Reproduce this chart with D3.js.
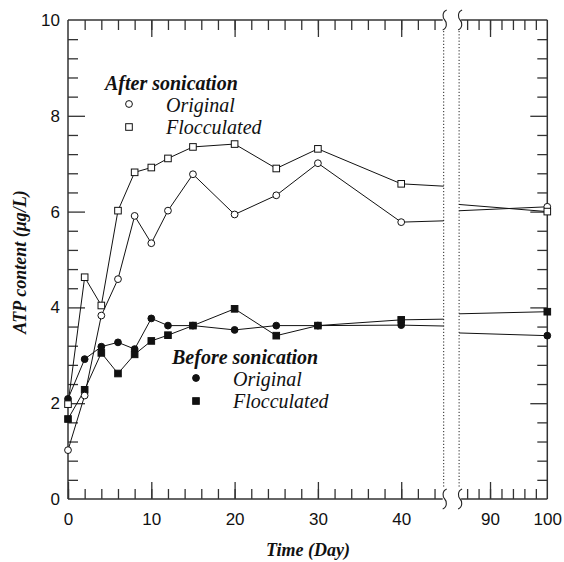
<!DOCTYPE html>
<html>
<head>
<meta charset="utf-8">
<script src="https://cdn.jsdelivr.net/npm/d3@7"></script>
<style>
  body { margin: 0; background: #fff; }
  svg { display: block; }
  .tick text { font-family: "Liberation Sans", Arial, sans-serif; font-size: 17px; fill: #111; }
</style>
</head>
<body>
<svg width="564" height="562"></svg>
<script>
// data
var days           = [0, 2, 4, 6, 8, 10, 12, 15, 20, 25, 30, 40, 100];
var afterOriginal  = [1.02, 2.16, 3.83, 4.59, 5.91, 5.34, 6.02, 6.78, 5.94, 6.34, 7.01, 5.78, 6.10];
var afterFloc      = [1.98, 4.63, 4.04, 6.02, 6.82, 6.92, 7.11, 7.35, 7.41, 6.90, 7.31, 6.58, 6.00];
var beforeOriginal = [2.09, 2.92, 3.18, 3.27, 3.13, 3.77, 3.62, 3.62, 3.53, 3.62, 3.62, 3.63, 3.41];
var beforeFloc     = [1.67, 2.28, 3.05, 2.62, 3.02, 3.30, 3.42, 3.62, 3.97, 3.41, 3.62, 3.74, 3.91];

var xMajorLeft = [0, 10, 20, 30, 40],
    xMajorRight = [90, 100],
    yMajor = [0, 2, 4, 6, 8, 10];

var breakL = 45.1, breakR = 84.6;
var serif = "'Liberation Serif', 'Times New Roman', Times, 'DejaVu Serif', serif";

var svg = d3.select("svg"),
    top_ = 20, bottom = 499, left = 68, right = 547.3;

var xL = d3.scaleLinear().domain([0, breakL]).range([left, 443.7]),
    xR = d3.scaleLinear().domain([breakR, 100]).range([459.1, right]),
    y = d3.scaleLinear().domain([0, 10]).range([bottom, top_]);

var axisColor = "#333";

function styleAxis(g) {
  g.select(".domain").remove();
  g.selectAll(".tick line").attr("stroke", axisColor).attr("stroke-width", 1.3);
}

// bottom axis, left part
svg.append("g").attr("transform", "translate(0," + bottom + ")")
  .call(d3.axisBottom(xL).tickValues(d3.range(0, 45, 2)).tickSize(-10).tickFormat(""))
  .call(styleAxis);
svg.append("g").attr("transform", "translate(0," + bottom + ")")
  .call(d3.axisBottom(xL).tickValues(xMajorLeft).tickSize(-17).tickPadding(14).tickFormat(d3.format("d")))
  .call(styleAxis);
// bottom axis, right part
svg.append("g").attr("transform", "translate(0," + bottom + ")")
  .call(d3.axisBottom(xR).tickValues(d3.range(86, 100, 2)).tickSize(-10).tickFormat(""))
  .call(styleAxis);
svg.append("g").attr("transform", "translate(0," + bottom + ")")
  .call(d3.axisBottom(xR).tickValues(xMajorRight).tickSize(-17).tickPadding(14).tickFormat(d3.format("d")))
  .call(styleAxis);
svg.selectAll(".tick").filter(function(d) { return d === 100; }).select("line").remove();

// top axis
svg.append("g").attr("transform", "translate(0," + top_ + ")")
  .call(d3.axisTop(xL).tickValues(d3.range(2, 45, 2)).tickSize(-10).tickFormat(""))
  .call(styleAxis);
svg.append("g").attr("transform", "translate(0," + top_ + ")")
  .call(d3.axisTop(xL).tickValues([10, 20, 30, 40]).tickSize(-17).tickFormat(""))
  .call(styleAxis);
svg.append("g").attr("transform", "translate(0," + top_ + ")")
  .call(d3.axisTop(xR).tickValues(d3.range(86, 100, 2)).tickSize(-10).tickFormat(""))
  .call(styleAxis);
svg.append("g").attr("transform", "translate(0," + top_ + ")")
  .call(d3.axisTop(xR).tickValues([90]).tickSize(-17).tickFormat(""))
  .call(styleAxis);

// left axis
var yMinor = d3.range(0.4, 10, 0.4).filter(function(v) { return Math.abs(v / 2 - Math.round(v / 2)) > 0.01; });
svg.append("g").attr("transform", "translate(" + left + ",0)")
  .call(d3.axisLeft(y).tickValues(yMinor).tickSize(-10).tickFormat(""))
  .call(styleAxis);
svg.append("g").attr("transform", "translate(" + left + ",0)")
  .call(d3.axisLeft(y).tickValues(yMajor.slice(1, 5)).tickSize(-17).tickFormat(""))
  .call(styleAxis);
svg.append("g").attr("transform", "translate(" + left + ",0)")
  .call(d3.axisLeft(y).tickValues(yMajor).tickSize(0).tickPadding(8).tickFormat(d3.format("d")))
  .call(styleAxis);
// right axis
svg.append("g").attr("transform", "translate(" + right + ",0)")
  .call(d3.axisRight(y).tickValues(yMinor).tickSize(-10).tickFormat(""))
  .call(styleAxis);
svg.append("g").attr("transform", "translate(" + right + ",0)")
  .call(d3.axisRight(y).tickValues(yMajor.slice(1, 5)).tickSize(-17).tickFormat(""))
  .call(styleAxis);

// frame lines with break
var frame = svg.append("g").attr("stroke", axisColor).attr("stroke-width", 1.5).attr("fill", "none");
frame.append("line").attr("x1", left).attr("x2", left).attr("y1", top_).attr("y2", bottom);
frame.append("line").attr("x1", right).attr("x2", right).attr("y1", top_).attr("y2", bottom);
[top_, bottom].forEach(function(yy) {
  frame.append("line").attr("x1", left).attr("x2", xL(breakL) - 1).attr("y1", yy).attr("y2", yy);
  frame.append("line").attr("x1", xR(breakR) + 2).attr("x2", right).attr("y1", yy).attr("y2", yy);
});
function squiggle(cx, cy) {
  return "M" + (cx + 2) + "," + (cy - 10) +
    " C" + (cx - 3) + "," + (cy - 8) + " " + (cx - 2) + "," + (cy - 2) + " " + cx + "," + cy +
    " C" + (cx + 2) + "," + (cy + 2) + " " + (cx + 3) + "," + (cy + 8) + " " + (cx - 2) + "," + (cy + 10);
}
[xL(breakL) + 1, xR(breakR) + 1].forEach(function(xx) {
  [top_, bottom].forEach(function(yy) {
    svg.append("path").attr("d", squiggle(xx, yy))
      .attr("fill", "none").attr("stroke", "#222").attr("stroke-width", 1.1);
  });
  svg.append("line").attr("x1", xx - 1).attr("x2", xx - 1).attr("y1", top_ + 11).attr("y2", bottom - 11)
    .attr("stroke", "#222").attr("stroke-width", 1).attr("stroke-dasharray", "1.2,2");
});

// series lines split at the axis break
function interp(d0, v0, d1, v1, d) { return v0 + (v1 - v0) * (d - d0) / (d1 - d0); }

function drawSeries(vals) {
  var leftPts = [], rightPts = [];
  for (var i = 0; i < days.length; i++) {
    if (days[i] <= breakL) leftPts.push([xL(days[i]), y(vals[i])]);
    else rightPts.push([xR(days[i]), y(vals[i])]);
    if (i < days.length - 1 && days[i] <= breakL && days[i + 1] > breakR) {
      leftPts.push([xL(breakL), y(interp(days[i], vals[i], days[i + 1], vals[i + 1], breakL))]);
      rightPts.push([xR(breakR), y(interp(days[i], vals[i], days[i + 1], vals[i + 1], breakR))]);
    }
  }
  var line = d3.line();
  [leftPts, rightPts].forEach(function(p) {
    svg.append("path").attr("d", line(p)).attr("fill", "none").attr("stroke", "#111").attr("stroke-width", 1);
  });
}
function px(d) { return d <= breakL ? xL(d) : xR(d); }

function drawMarkers(vals, shape, filled) {
  var g = svg.append("g");
  var pts = days.map(function(d, i) { return { x: px(d), y: y(vals[i]) }; });
  if (shape === "circle") {
    g.selectAll("circle").data(pts).enter().append("circle")
      .attr("cx", function(d) { return d.x; }).attr("cy", function(d) { return d.y; })
      .attr("r", 3.4)
      .attr("fill", filled ? "#111" : "#fff").attr("stroke", "#111").attr("stroke-width", 1);
  } else {
    g.selectAll("rect").data(pts).enter().append("rect")
      .attr("x", function(d) { return d.x - 3.3; }).attr("y", function(d) { return d.y - 3.3; })
      .attr("width", 6.6).attr("height", 6.6)
      .attr("fill", filled ? "#111" : "#fff").attr("stroke", "#111").attr("stroke-width", 1);
  }
}

drawSeries(beforeOriginal);
drawSeries(beforeFloc);
drawSeries(afterOriginal);
drawSeries(afterFloc);
drawMarkers(beforeOriginal, "circle", true);
drawMarkers(beforeFloc, "square", true);
drawMarkers(afterOriginal, "circle", false);
drawMarkers(afterFloc, "square", false);

// legends
function legend(x0, y0, title, filled) {
  svg.append("text").attr("font-family", serif).attr("x", x0).attr("y", y0)
    .attr("font-size", 20).attr("font-weight", "bold").attr("font-style", "italic").attr("fill", "#111").text(title);
  var sx = x0 + 24, tx = x0 + 61;
  svg.append("circle").attr("cx", sx).attr("cy", y0 + 14).attr("r", 3.4)
    .attr("fill", filled ? "#111" : "#fff").attr("stroke", "#111");
  svg.append("rect").attr("x", sx - 3.3).attr("y", y0 + 37 - 3.3).attr("width", 6.6).attr("height", 6.6)
    .attr("fill", filled ? "#111" : "#fff").attr("stroke", "#111");
  svg.append("text").attr("font-family", serif).attr("x", tx).attr("y", y0 + 22)
    .attr("font-size", 20).attr("font-style", "italic").attr("fill", "#111").text("Original");
  svg.append("text").attr("font-family", serif).attr("x", tx).attr("y", y0 + 44)
    .attr("font-size", 20).attr("font-style", "italic").attr("fill", "#111").text("Flocculated");
}
legend(105, 90, "After sonication", false);
legend(172, 364, "Before sonication", true);

// axis titles
svg.append("text").attr("font-family", serif).attr("x", 308).attr("y", 556)
  .attr("text-anchor", "middle").attr("font-size", 18).attr("font-weight", "bold").attr("font-style", "italic")
  .attr("fill", "#111").text("Time (Day)");
svg.append("text").attr("font-family", serif).attr("transform", "translate(26,262) rotate(-90)")
  .attr("text-anchor", "middle").attr("font-size", 18).attr("font-weight", "bold").attr("font-style", "italic")
  .attr("fill", "#111").text("ATP content (μg/L)");
</script>
</body>
</html>
